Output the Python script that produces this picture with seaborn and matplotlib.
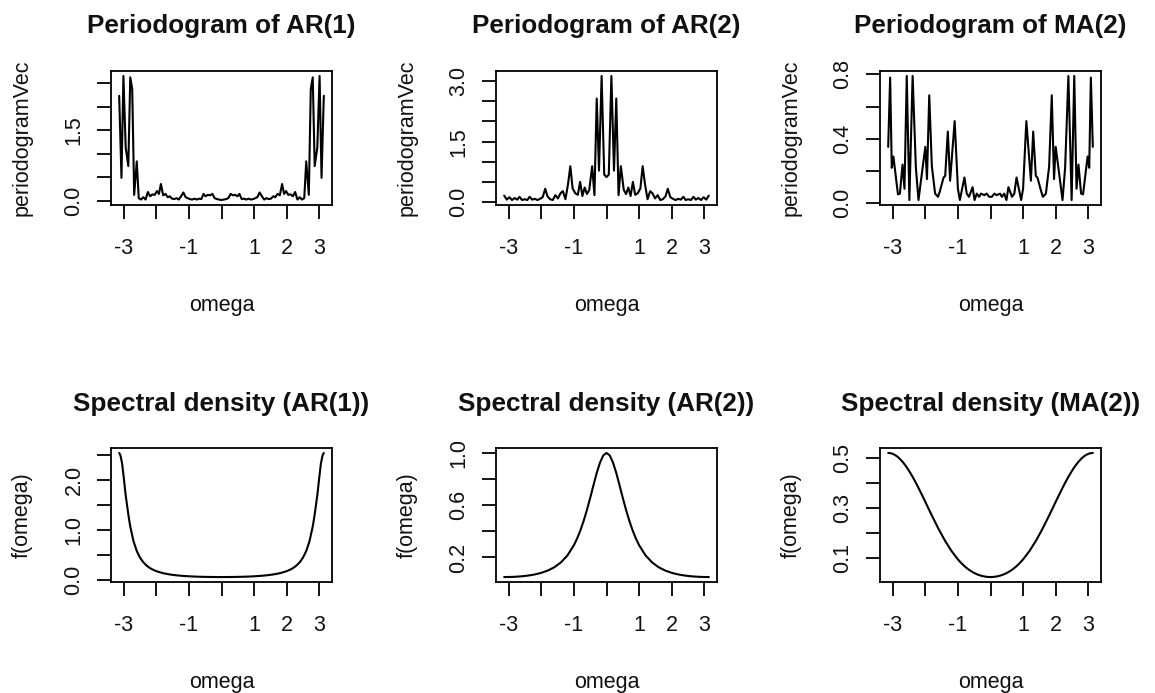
import numpy as np
import pandas as pd
import matplotlib
matplotlib.use("Agg")
import matplotlib.pyplot as plt
import seaborn as sns

# ---------------- data ----------------
omega_pg_ar1 = [-3.14, -3.07, -3.01, -2.94, -2.86, -2.80, -2.74, -2.68, -2.60, -2.54,
                -2.47, -2.40, -2.33, -2.26, -2.19, -2.12, -2.05, -1.98, -1.92, -1.86,
                -1.79, -1.72, -1.65, -1.59, -1.52, -1.45, -1.38, -1.31, -1.24, -1.17,
                -1.10, -1.04, -0.97, -0.90, -0.83, -0.76, -0.69, -0.62, -0.55, -0.49,
                -0.42, -0.35, -0.28, -0.21, -0.14, -0.07, 0.00,
                0.07, 0.14, 0.21, 0.28, 0.35, 0.42, 0.49, 0.55, 0.62, 0.69,
                0.76, 0.83, 0.90, 0.97, 1.04, 1.10, 1.17, 1.24, 1.31, 1.38,
                1.45, 1.52, 1.59, 1.65, 1.72, 1.79, 1.86, 1.92, 1.98, 2.05,
                2.12, 2.19, 2.26, 2.33, 2.40, 2.47, 2.54, 2.60, 2.68, 2.74,
                2.80, 2.86, 2.94, 3.01, 3.07, 3.14]
pg_ar1 = [2.23, 0.49, 2.65, 1.13, 0.74, 2.62, 2.37, 0.13, 0.84, 0.06,
          0.03, 0.08, 0.03, 0.19, 0.10, 0.14, 0.13, 0.21, 0.15, 0.36,
          0.12, 0.15, 0.08, 0.10, 0.05, 0.04, 0.06, 0.03, 0.10, 0.18,
          0.08, 0.06, 0.04, 0.03, 0.05, 0.03, 0.05, 0.04, 0.15, 0.10,
          0.13, 0.12, 0.15, 0.06, 0.04, 0.03, 0.02,
          0.03, 0.04, 0.06, 0.15, 0.12, 0.13, 0.10, 0.15, 0.04, 0.05,
          0.03, 0.05, 0.03, 0.04, 0.06, 0.08, 0.18, 0.10, 0.03, 0.06,
          0.04, 0.05, 0.10, 0.08, 0.15, 0.12, 0.36, 0.15, 0.21, 0.13,
          0.14, 0.10, 0.19, 0.03, 0.08, 0.03, 0.06, 0.84, 0.13, 2.37,
          2.62, 0.74, 1.13, 2.65, 0.49, 2.23]

omega_pg_ar2 = [-3.14, -3.06, -2.98, -2.90, -2.82, -2.74, -2.67, -2.59, -2.51, -2.43,
                -2.36, -2.28, -2.20, -2.12, -2.04, -1.96, -1.88, -1.81, -1.73, -1.65,
                -1.57, -1.49, -1.41, -1.34, -1.26, -1.18, -1.11, -1.04, -0.96, -0.88,
                -0.81, -0.74, -0.67, -0.60, -0.53, -0.44, -0.37, -0.30, -0.23, -0.15,
                -0.07, 0.00,
                0.07, 0.15, 0.23, 0.30, 0.37, 0.44, 0.53, 0.60, 0.67, 0.74,
                0.81, 0.88, 0.96, 1.04, 1.11, 1.18, 1.26, 1.34, 1.41, 1.49,
                1.57, 1.65, 1.73, 1.81, 1.88, 1.96, 2.04, 2.12, 2.20, 2.28,
                2.36, 2.43, 2.51, 2.59, 2.67, 2.74, 2.82, 2.90, 2.98, 3.06, 3.14]
pg_ar2 = [0.16, 0.06, 0.12, 0.05, 0.10, 0.06, 0.13, 0.05, 0.07, 0.05,
          0.13, 0.06, 0.08, 0.05, 0.08, 0.12, 0.33, 0.14, 0.07, 0.05,
          0.17, 0.09, 0.22, 0.27, 0.07, 0.45, 0.89, 0.34, 0.22, 0.18,
          0.50, 0.15, 0.36, 0.20, 0.30, 0.89, 0.17, 2.57, 0.78, 3.13,
          0.68, 0.62,
          0.68, 3.13, 0.78, 2.57, 0.17, 0.89, 0.30, 0.20, 0.36, 0.15,
          0.50, 0.18, 0.22, 0.34, 0.89, 0.45, 0.07, 0.27, 0.22, 0.09,
          0.17, 0.05, 0.07, 0.14, 0.33, 0.12, 0.08, 0.05, 0.08, 0.06,
          0.13, 0.05, 0.07, 0.05, 0.13, 0.06, 0.10, 0.05, 0.12, 0.06, 0.16]

omega_pg_ma2 = [-3.14, -3.08, -3.03, -2.98, -2.84, -2.78, -2.70, -2.64, -2.57, -2.49,
                -2.39, -2.29, -2.21, -2.09, -2.00, -1.95, -1.88, -1.80, -1.70, -1.61,
                -1.56, -1.44, -1.39, -1.31, -1.24, -1.10, -1.00, -0.94, -0.80, -0.73,
                -0.66, -0.55, -0.49, -0.42, -0.35, -0.29, -0.19, -0.12, -0.04,
                0.04, 0.12, 0.19, 0.29, 0.35, 0.42, 0.49, 0.55, 0.66, 0.73,
                0.80, 0.94, 1.00, 1.10, 1.24, 1.31, 1.39, 1.44, 1.56, 1.61,
                1.70, 1.80, 1.88, 1.95, 2.00, 2.09, 2.21, 2.29, 2.39, 2.49,
                2.57, 2.64, 2.70, 2.78, 2.84, 2.98, 3.03, 3.08, 3.14]
pg_ma2 = [0.35, 0.78, 0.22, 0.29, 0.055, 0.06, 0.24, 0.09, 0.79, 0.02,
          0.79, 0.22, 0.02, 0.21, 0.35, 0.15, 0.67, 0.23, 0.06, 0.04,
          0.07, 0.16, 0.17, 0.445, 0.14, 0.51, 0.09, 0.02, 0.16, 0.06,
          0.04, 0.10, 0.02, 0.06, 0.04, 0.06, 0.05, 0.06, 0.04,
          0.04, 0.06, 0.05, 0.06, 0.04, 0.06, 0.02, 0.10, 0.04, 0.06,
          0.16, 0.02, 0.09, 0.51, 0.14, 0.445, 0.17, 0.16, 0.07, 0.04,
          0.06, 0.23, 0.67, 0.15, 0.35, 0.21, 0.02, 0.22, 0.79, 0.02,
          0.79, 0.09, 0.24, 0.06, 0.055, 0.29, 0.22, 0.78, 0.35]

omega_sd = [-3.14, -3.10, -3.05, -3.00, -2.95, -2.90, -2.85, -2.80, -2.70, -2.60,
            -2.50, -2.40, -2.30, -2.20, -2.10, -2.00, -1.80, -1.60, -1.40, -1.20,
            -1.00, -0.90, -0.80, -0.70, -0.60, -0.50, -0.40, -0.30, -0.20, -0.10,
            0.00,
            0.10, 0.20, 0.30, 0.40, 0.50, 0.60, 0.70, 0.80, 0.90, 1.00,
            1.20, 1.40, 1.60, 1.80, 2.00, 2.10, 2.20, 2.30, 2.40, 2.50,
            2.60, 2.70, 2.80, 2.85, 2.90, 2.95, 3.00, 3.05, 3.10, 3.14]
sd_ar1 = [2.546, 2.495, 2.332, 2.053, 1.747, 1.501, 1.268, 1.067, 0.771, 0.574,
          0.441, 0.349, 0.283, 0.234, 0.198, 0.170, 0.130, 0.105, 0.0876, 0.0756,
          0.0671, 0.0638, 0.0610, 0.0587, 0.0568, 0.0553, 0.0541, 0.0531, 0.0525, 0.0521,
          0.0520,
          0.0521, 0.0525, 0.0531, 0.0541, 0.0553, 0.0568, 0.0587, 0.0610, 0.0638, 0.0671,
          0.0756, 0.0876, 0.105, 0.130, 0.170, 0.198, 0.234, 0.283, 0.349, 0.441,
          0.574, 0.771, 1.067, 1.268, 1.501, 1.747, 2.053, 2.332, 2.495, 2.546]
sd_ar2 = [0.0500, 0.0500, 0.0502, 0.0504, 0.0507, 0.0511, 0.0516, 0.0522, 0.0538, 0.0559,
          0.0584, 0.0616, 0.0654, 0.0701, 0.0756, 0.0823, 0.0998, 0.125, 0.162, 0.215,
          0.294, 0.346, 0.408, 0.481, 0.564, 0.656, 0.753, 0.847, 0.926, 0.981,
          1.000,
          0.981, 0.926, 0.847, 0.753, 0.656, 0.564, 0.481, 0.408, 0.346, 0.294,
          0.215, 0.162, 0.125, 0.0998, 0.0823, 0.0756, 0.0701, 0.0654, 0.0616, 0.0584,
          0.0559, 0.0538, 0.0522, 0.0516, 0.0511, 0.0507, 0.0504, 0.0502, 0.0500, 0.0500]
sd_ma2 = [0.5200, 0.5197, 0.5185, 0.5163, 0.5131, 0.5093, 0.5045, 0.4988, 0.4850, 0.4683,
          0.4488, 0.4270, 0.4033, 0.3780, 0.3517, 0.3247, 0.2705, 0.2184, 0.1708, 0.1295,
          0.0953, 0.0810, 0.0685, 0.0577, 0.0487, 0.0412, 0.0352, 0.0307, 0.0275, 0.0256,
          0.0250,
          0.0256, 0.0275, 0.0307, 0.0352, 0.0412, 0.0487, 0.0577, 0.0685, 0.0810, 0.0953,
          0.1295, 0.1708, 0.2184, 0.2705, 0.3247, 0.3517, 0.3780, 0.4033, 0.4270, 0.4488,
          0.4683, 0.4850, 0.4988, 0.5045, 0.5093, 0.5131, 0.5163, 0.5185, 0.5197, 0.5200]

titles = ["Periodogram of AR(1)", "Periodogram of AR(2)", "Periodogram of MA(2)",
          "Spectral density (AR(1))", "Spectral density (AR(2))", "Spectral density (MA(2))"]
ylabels = ["periodogramVec", "periodogramVec", "periodogramVec",
           "f(omega)", "f(omega)", "f(omega)"]
xlabel = "omega"
x_ticks = [-3, -2, -1, 0, 1, 2, 3]
x_ticklabels = ["-3", "", "-1", "", "1", "2", "3"]
y_ticks = [[0, 0.5, 1.0, 1.5, 2.0, 2.5],
           [0, 0.5, 1.0, 1.5, 2.0, 2.5, 3.0],
           [0, 0.2, 0.4, 0.6, 0.8],
           [0, 0.5, 1.0, 1.5, 2.0, 2.5],
           [0.2, 0.4, 0.6, 0.8, 1.0],
           [0.1, 0.2, 0.3, 0.4, 0.5]]
y_ticklabels = [["0.0", "", "", "1.5", "", ""],
                ["0.0", "", "", "1.5", "", "", "3.0"],
                ["0.0", "", "0.4", "", "0.8"],
                ["0.0", "", "1.0", "", "2.0", ""],
                ["0.2", "", "0.6", "", "1.0"],
                ["0.1", "", "0.3", "", "0.5"]]

series_x = [omega_pg_ar1, omega_pg_ar2, omega_pg_ma2, omega_sd, omega_sd, omega_sd]
series_y = [pg_ar1, pg_ar2, pg_ma2, sd_ar1, sd_ar2, sd_ma2]

# ---------------- figure ----------------
sns.set_theme(style="white")
plt.rcParams["font.family"] = ["Liberation Sans", "DejaVu Sans"]

W, H = 1155, 693
fig = plt.figure(figsize=(W / 100, H / 100), dpi=100)

col_left = [111, 496, 880]
row_top = [71, 448]
box_w, box_h = 221, 134
TXT = "#111111"

for i in range(6):
    r, c = divmod(i, 3)
    rect = [col_left[c] / W, 1 - (row_top[r] + box_h) / H, box_w / W, box_h / H]
    ax = fig.add_axes(rect)
    df = pd.DataFrame({"omega": series_x[i], "val": series_y[i]})
    sns.lineplot(data=df, x="omega", y="val", ax=ax, color="black",
                 linewidth=1.5, estimator=None, sort=False)
    ax.margins(x=0.04, y=0.04)
    ax.set_xticks(x_ticks)
    ax.set_xticklabels(x_ticklabels)
    ax.set_yticks(y_ticks[i])
    ax.set_yticklabels(y_ticklabels[i])
    for sp in ax.spines.values():
        sp.set_visible(True)
        sp.set_color("black")
        sp.set_linewidth(1.3)
    ax.tick_params(axis="both", direction="out", length=10, width=1.3,
                   colors="black", labelcolor=TXT, labelsize=15.5,
                   bottom=True, left=True)
    ax.tick_params(axis="x", pad=14)
    ax.tick_params(axis="y", pad=9, labelrotation=90)
    for lab in ax.get_yticklabels():
        lab.set_va("center")
    ax.set_xlabel(xlabel, fontsize=15.5, labelpad=26, color=TXT)
    ax.set_ylabel(ylabels[i], fontsize=15.5, labelpad=22, color=TXT)
    ax.set_title(titles[i], fontsize=18.8, fontweight="bold", pad=27, color=TXT)
    ax.grid(False)

fig.savefig("out.png", dpi=100, facecolor="white")
